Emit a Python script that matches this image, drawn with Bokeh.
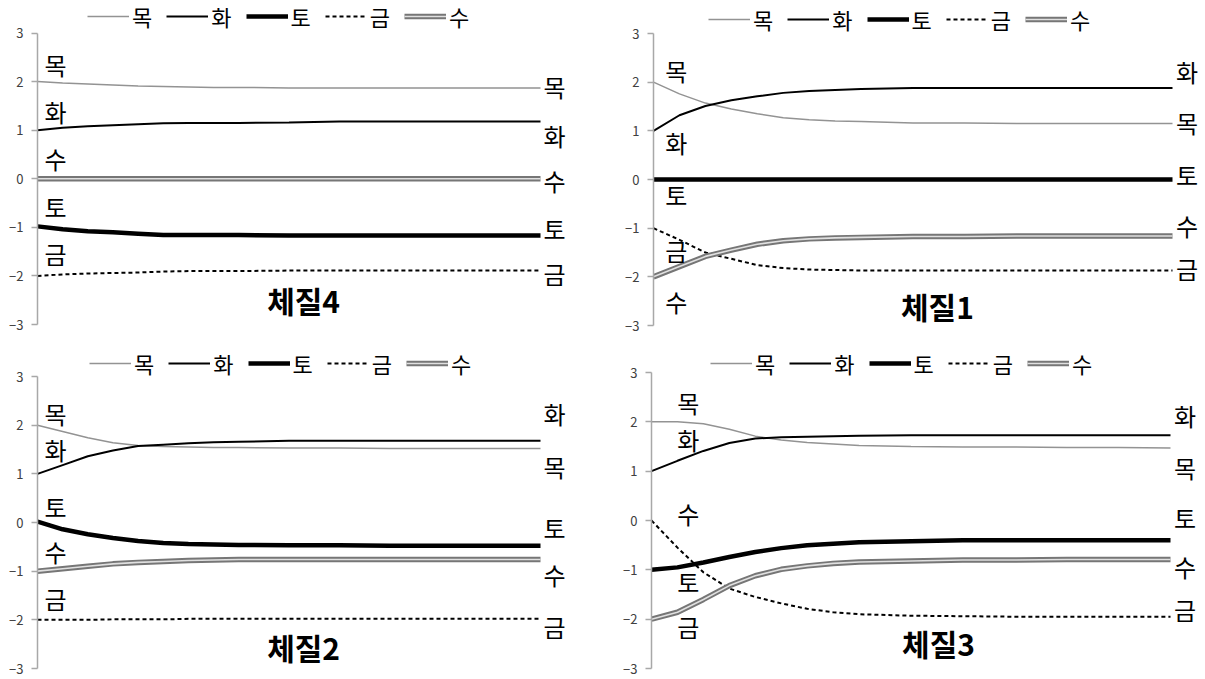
from bokeh.plotting import figure
from bokeh.models import Range1d, Legend, LegendItem, Label
from bokeh.layouts import column, row
from bokeh.embed import file_html
from bokeh.resources import INLINE

# ---------------- data ----------------
steps = [0, 5, 10, 15, 20, 25, 30, 35, 40, 50, 60, 70, 80, 90, 100]
elements = ["목", "화", "토", "금", "수"]
y_ticks = [-3, -2, -1, 0, 1, 2, 3]

# 체질4
c4_mok = [2.00, 1.97, 1.95, 1.93, 1.91, 1.90, 1.89, 1.88, 1.88, 1.87, 1.87, 1.87, 1.87, 1.87, 1.87]
c4_hwa = [1.00, 1.05, 1.08, 1.10, 1.12, 1.14, 1.15, 1.15, 1.15, 1.16, 1.18, 1.18, 1.18, 1.18, 1.18]
c4_to = [-0.98, -1.04, -1.08, -1.10, -1.13, -1.16, -1.16, -1.16, -1.16, -1.17, -1.17, -1.17, -1.17, -1.17, -1.17]
c4_geum = [-2.00, -1.97, -1.95, -1.94, -1.93, -1.91, -1.90, -1.90, -1.90, -1.89, -1.89, -1.89, -1.89, -1.89, -1.89]
c4_su = [0.00, 0.00, 0.00, 0.00, 0.00, 0.00, 0.00, 0.00, 0.00, 0.00, 0.00, 0.00, 0.00, 0.00, 0.00]

# 체질1
c1_mok = [2.00, 1.76, 1.57, 1.45, 1.35, 1.27, 1.23, 1.20, 1.19, 1.16, 1.16, 1.15, 1.15, 1.15, 1.15]
c1_hwa = [1.00, 1.32, 1.51, 1.63, 1.71, 1.78, 1.82, 1.84, 1.86, 1.88, 1.88, 1.88, 1.88, 1.88, 1.88]
c1_to = [0.00, 0.00, 0.00, 0.00, 0.00, 0.00, 0.00, 0.00, 0.00, 0.00, 0.00, 0.00, 0.00, 0.00, 0.00]
c1_geum = [-1.00, -1.24, -1.50, -1.63, -1.76, -1.82, -1.85, -1.86, -1.87, -1.87, -1.87, -1.87, -1.87, -1.87, -1.87]
c1_su = [-2.00, -1.79, -1.58, -1.45, -1.33, -1.26, -1.22, -1.20, -1.19, -1.17, -1.17, -1.16, -1.16, -1.16, -1.16]

# 체질2
c2_mok = [2.00, 1.87, 1.74, 1.64, 1.58, 1.56, 1.55, 1.54, 1.54, 1.53, 1.53, 1.52, 1.52, 1.52, 1.52]
c2_hwa = [1.00, 1.18, 1.36, 1.48, 1.57, 1.60, 1.63, 1.65, 1.66, 1.68, 1.68, 1.68, 1.68, 1.68, 1.68]
c2_to = [0.02, -0.14, -0.24, -0.32, -0.38, -0.42, -0.44, -0.45, -0.46, -0.47, -0.47, -0.48, -0.48, -0.48, -0.48]
c2_geum = [-2.00, -2.00, -2.00, -1.99, -1.99, -1.99, -1.98, -1.98, -1.98, -1.98, -1.98, -1.98, -1.98, -1.98, -1.98]
c2_su = [-1.00, -0.95, -0.90, -0.85, -0.82, -0.80, -0.78, -0.77, -0.76, -0.76, -0.76, -0.76, -0.76, -0.76, -0.76]

# 체질3
c3_mok = [2.00, 2.00, 1.96, 1.85, 1.71, 1.63, 1.58, 1.55, 1.52, 1.50, 1.49, 1.49, 1.48, 1.48, 1.47]
c3_hwa = [1.00, 1.21, 1.41, 1.57, 1.66, 1.69, 1.70, 1.71, 1.72, 1.73, 1.73, 1.73, 1.73, 1.73, 1.73]
c3_to = [-1.00, -0.95, -0.85, -0.74, -0.64, -0.56, -0.50, -0.47, -0.44, -0.42, -0.40, -0.40, -0.40, -0.40, -0.40]
c3_geum = [0.00, -0.55, -1.05, -1.38, -1.55, -1.68, -1.79, -1.86, -1.90, -1.93, -1.94, -1.95, -1.95, -1.95, -1.95]
c3_su = [-2.00, -1.86, -1.60, -1.32, -1.12, -0.99, -0.92, -0.87, -0.84, -0.82, -0.80, -0.80, -0.79, -0.79, -0.79]

# ---------------- layout / style ----------------
FONT = "Noto Sans CJK KR"
LABEL_SIZE = "24px"
LEGEND_SIZE = "22px"
TITLE_SIZE = "30px"
LABEL_NUDGE = 0.04  # small upward visual correction for CJK glyph centring

panels = [
    dict(title="체질4", series=[c4_mok, c4_hwa, c4_to, c4_geum, c4_su],
         width=603, height=346, border_left=37, border_top=1, border_bottom=5,
         line_px=503, y3=32.5, ym3=324, fig_top=0,
         start_dx=3.6, start_y=[2.31, 1.34, -0.62, -1.57, 0.38],
         end_y=[1.85, 0.85, -1.07, -2.0, -0.08],
         title_xy=(52.9, -2.5), legend_xy=(50, 309)),
    dict(title="체질1", series=[c1_mok, c1_hwa, c1_to, c1_geum, c1_su],
         width=601, height=346, border_left=50, border_top=1, border_bottom=5,
         line_px=519, y3=33, ym3=325, fig_top=0,
         start_dx=4.4, start_y=[2.2, 0.73, -0.35, -1.5, -2.55],
         end_y=[1.13, 2.17, 0.06, -1.87, -0.98],
         title_xy=(54.7, -2.59), legend_xy=(55, 306)),
    dict(title="체질2", series=[c2_mok, c2_hwa, c2_to, c2_geum, c2_su],
         width=603, height=332, border_left=37, border_top=1, border_bottom=6,
         line_px=503, y3=376, ym3=668, fig_top=346,
         start_dx=3.6, start_y=[2.21, 1.47, 0.28, -1.61, -0.63],
         end_y=[1.11, 2.19, -0.14, -2.18, -1.10],
         title_xy=(52.9, -2.56), legend_xy=(52, 293)),
    dict(title="체질3", series=[c3_mok, c3_hwa, c3_to, c3_geum, c3_su],
         width=601, height=332, border_left=48, border_top=1, border_bottom=6,
         line_px=519, y3=372, ym3=668, fig_top=346,
         start_dx=7.1, start_y=[2.35, 1.61, -1.28, -2.18, 0.10],
         end_y=[1.04, 2.08, 0.03, -1.85, -0.97],
         title_xy=(55.3, -2.49), legend_xy=(59, 293)),
]

styles = {
    "목": dict(line_color="#939393", line_width=1.5),
    "화": dict(line_color="#000000", line_width=2),
    "토": dict(line_color="#000000", line_width=4.5),
    "금": dict(line_color="#000000", line_width=2, line_dash="4 3"),
}


def make_panel(cfg):
    frame_w = cfg["width"] - cfg["border_left"]
    x_end = 100.0 * frame_w / cfg["line_px"]
    ppu = (cfg["ym3"] - cfg["y3"]) / 6.0
    frame_top = cfg["fig_top"] + cfg["border_top"]
    frame_bot = cfg["fig_top"] + cfg["height"] - cfg["border_bottom"]
    y_max = 3 + (cfg["y3"] - frame_top) / ppu
    y_min = -3 - (frame_bot - cfg["ym3"]) / ppu

    p = figure(width=cfg["width"], height=cfg["height"], output_backend="svg",
               toolbar_location=None, x_range=Range1d(0, x_end),
               y_range=Range1d(y_min, y_max),
               min_border_left=cfg["border_left"], min_border_right=0,
               min_border_top=cfg["border_top"], min_border_bottom=cfg["border_bottom"])
    p.outline_line_color = None
    p.grid.visible = False
    p.xaxis.visible = False
    p.background_fill_color = "white"
    p.border_fill_color = "white"

    ax = p.yaxis[0]
    ax.bounds = (-3, 3)
    ax.ticker = y_ticks
    ax.axis_line_color = "#a8a8a8"
    ax.axis_line_width = 1.5
    ax.major_tick_line_color = "#a8a8a8"
    ax.major_tick_line_width = 1.5
    ax.major_tick_out = 6
    ax.major_tick_in = 0
    ax.minor_tick_line_color = None
    ax.major_label_standoff = 8
    ax.major_label_text_font = FONT
    ax.major_label_text_font_size = "13px"
    ax.major_label_text_color = "#404040"

    items = []
    for name, ys in zip(elements, cfg["series"]):
        if name == "수":
            r1 = p.line(steps, ys, line_color="#767676", line_width=5.5)
            r2 = p.line(steps, ys, line_color="#e0e0e0", line_width=1.6)
            items.append(LegendItem(label=name, renderers=[r1, r2]))
        else:
            r = p.line(steps, ys, **styles[name])
            items.append(LegendItem(label=name, renderers=[r]))

    legend = Legend(items=items, orientation="horizontal",
                    location=cfg["legend_xy"], glyph_width=42, glyph_height=16,
                    label_width=0, label_height=16, label_standoff=3, spacing=14,
                    padding=0, margin=0, border_line_color=None,
                    background_fill_alpha=0, label_text_font=FONT,
                    label_text_font_size=LEGEND_SIZE, label_text_color="#000000")
    p.add_layout(legend)

    end_x = 102.8
    for name, ys, sy, ey in zip(elements, cfg["series"], cfg["start_y"], cfg["end_y"]):
        p.add_layout(Label(x=cfg["start_dx"], y=sy + LABEL_NUDGE, text=name, text_align="center",
                           text_baseline="middle", text_font=FONT,
                           text_font_size=LABEL_SIZE, text_color="#000000"))
        p.add_layout(Label(x=end_x, y=ey + LABEL_NUDGE, text=name, text_align="center",
                           text_baseline="middle", text_font=FONT,
                           text_font_size=LABEL_SIZE, text_color="#000000"))

    tx, ty = cfg["title_xy"]
    p.add_layout(Label(x=tx, y=ty, text=cfg["title"], text_align="center",
                       text_baseline="middle", text_font=FONT,
                       text_font_size=TITLE_SIZE, text_font_style="bold",
                       text_color="#000000"))
    return p


figs = [make_panel(c) for c in panels]
layout = column(row(figs[0], figs[1], spacing=0), row(figs[2], figs[3], spacing=0), spacing=0)

open("out.html", "w").write(file_html(layout, INLINE))
